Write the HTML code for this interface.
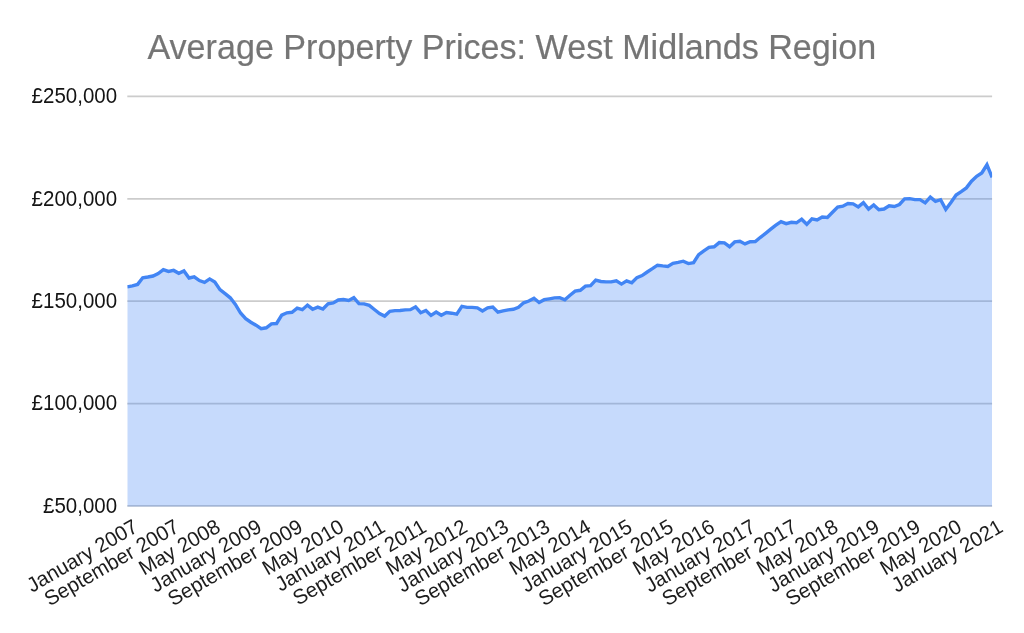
<!DOCTYPE html>
<html lang="en"><head><meta charset="utf-8"><title>Average Property Prices: West Midlands Region</title>
<style>
html,body{margin:0;padding:0;background:#fff;}
body{width:1024px;height:633px;overflow:hidden;font-family:"Liberation Sans",Arial,sans-serif;}
svg{display:block;}
text{font-family:"Liberation Sans",Arial,sans-serif;}
</style></head><body>
<svg width="1024" height="633" viewBox="0 0 1024 633">
<rect x="0" y="0" width="1024" height="633" fill="#ffffff"/>
<text transform="translate(147.4,58.6) scale(1,1.012)" font-size="34.13" fill="#757575" stroke="#757575" stroke-width="0.2">Average Property Prices: West Midlands Region</text>
<g stroke="#cccccc" stroke-width="1.7">
<line x1="127.3" x2="992.1" y1="96.45" y2="96.45"/>
<line x1="127.3" x2="992.1" y1="198.85" y2="198.85"/>
<line x1="127.3" x2="992.1" y1="301.15" y2="301.15"/>
<line x1="127.3" x2="992.1" y1="403.6" y2="403.6"/>
<line x1="127.3" x2="992.1" y1="505.9" y2="505.9"/>
</g>
<clipPath id="c"><rect x="127.3" y="90" width="864.8000000000001" height="416.75"/></clipPath>
<g clip-path="url(#c)"><path d="M127.30,286.80 L132.45,285.90 L137.60,284.40 L142.74,277.80 L147.89,277.00 L153.04,276.00 L158.19,273.60 L163.33,269.70 L168.48,271.40 L173.63,270.40 L178.78,273.30 L183.92,270.90 L189.07,278.00 L194.22,276.80 L199.37,280.60 L204.51,282.40 L209.66,278.90 L214.81,282.00 L219.96,289.70 L225.10,293.70 L230.25,297.80 L235.40,304.40 L240.55,313.00 L245.70,318.60 L250.84,322.20 L255.99,325.20 L261.14,328.60 L266.29,327.80 L271.43,323.90 L276.58,323.50 L281.73,315.10 L286.88,312.80 L292.02,312.30 L297.17,308.20 L302.32,309.70 L307.47,305.10 L312.61,309.20 L317.76,307.10 L322.91,309.00 L328.06,303.90 L333.20,302.90 L338.35,300.00 L343.50,299.50 L348.65,300.40 L353.80,297.70 L358.94,303.70 L364.09,303.90 L369.24,305.40 L374.39,309.50 L379.53,313.50 L384.68,316.10 L389.83,311.30 L394.98,310.65 L400.12,310.45 L405.27,309.85 L410.42,309.65 L415.57,306.80 L420.71,312.70 L425.86,310.50 L431.01,315.40 L436.16,312.00 L441.30,315.30 L446.45,312.50 L451.60,313.20 L456.75,314.20 L461.90,306.40 L467.04,307.40 L472.19,307.40 L477.34,307.90 L482.49,311.00 L487.63,307.90 L492.78,307.10 L497.93,312.20 L503.08,310.90 L508.22,309.90 L513.37,309.30 L518.52,307.30 L523.67,302.80 L528.81,301.00 L533.96,298.30 L539.11,302.50 L544.26,299.70 L549.40,298.80 L554.55,297.90 L559.70,297.70 L564.85,299.80 L570.00,295.20 L575.14,291.10 L580.29,290.30 L585.44,286.10 L590.59,285.70 L595.73,280.10 L600.88,281.50 L606.03,281.90 L611.18,281.90 L616.32,280.80 L621.47,284.10 L626.62,280.80 L631.77,282.80 L636.91,277.60 L642.06,275.60 L647.21,272.00 L652.36,268.70 L657.50,265.20 L662.65,265.90 L667.80,266.40 L672.95,263.40 L678.10,262.40 L683.24,261.20 L688.39,263.60 L693.54,262.70 L698.69,254.60 L703.83,250.80 L708.98,247.30 L714.13,246.80 L719.28,242.60 L724.42,242.90 L729.57,246.70 L734.72,241.90 L739.87,241.20 L745.01,243.90 L750.16,241.70 L755.31,241.60 L760.46,237.30 L765.60,233.30 L770.75,229.20 L775.90,225.20 L781.05,221.60 L786.20,223.60 L791.34,222.30 L796.49,222.80 L801.64,219.20 L806.79,224.30 L811.93,218.80 L817.08,219.90 L822.23,217.00 L827.38,217.50 L832.52,212.20 L837.67,207.10 L842.82,206.20 L847.97,203.50 L853.11,203.80 L858.26,206.90 L863.41,202.70 L868.56,209.10 L873.70,204.90 L878.85,209.80 L884.00,209.00 L889.15,205.80 L894.30,206.50 L899.44,204.50 L904.59,198.90 L909.74,198.70 L914.89,199.60 L920.03,199.60 L925.18,202.90 L930.33,197.10 L935.48,201.40 L940.62,199.70 L945.77,209.40 L950.92,202.40 L956.07,195.00 L961.21,191.60 L966.36,187.90 L971.51,181.20 L976.66,176.30 L981.80,173.00 L986.95,164.80 L992.10,177.40 L992.10,506.75 L127.30,506.75 Z" fill="#4285f4" fill-opacity="0.3" stroke="none"/>
<path d="M127.30,286.80 L132.45,285.90 L137.60,284.40 L142.74,277.80 L147.89,277.00 L153.04,276.00 L158.19,273.60 L163.33,269.70 L168.48,271.40 L173.63,270.40 L178.78,273.30 L183.92,270.90 L189.07,278.00 L194.22,276.80 L199.37,280.60 L204.51,282.40 L209.66,278.90 L214.81,282.00 L219.96,289.70 L225.10,293.70 L230.25,297.80 L235.40,304.40 L240.55,313.00 L245.70,318.60 L250.84,322.20 L255.99,325.20 L261.14,328.60 L266.29,327.80 L271.43,323.90 L276.58,323.50 L281.73,315.10 L286.88,312.80 L292.02,312.30 L297.17,308.20 L302.32,309.70 L307.47,305.10 L312.61,309.20 L317.76,307.10 L322.91,309.00 L328.06,303.90 L333.20,302.90 L338.35,300.00 L343.50,299.50 L348.65,300.40 L353.80,297.70 L358.94,303.70 L364.09,303.90 L369.24,305.40 L374.39,309.50 L379.53,313.50 L384.68,316.10 L389.83,311.30 L394.98,310.65 L400.12,310.45 L405.27,309.85 L410.42,309.65 L415.57,306.80 L420.71,312.70 L425.86,310.50 L431.01,315.40 L436.16,312.00 L441.30,315.30 L446.45,312.50 L451.60,313.20 L456.75,314.20 L461.90,306.40 L467.04,307.40 L472.19,307.40 L477.34,307.90 L482.49,311.00 L487.63,307.90 L492.78,307.10 L497.93,312.20 L503.08,310.90 L508.22,309.90 L513.37,309.30 L518.52,307.30 L523.67,302.80 L528.81,301.00 L533.96,298.30 L539.11,302.50 L544.26,299.70 L549.40,298.80 L554.55,297.90 L559.70,297.70 L564.85,299.80 L570.00,295.20 L575.14,291.10 L580.29,290.30 L585.44,286.10 L590.59,285.70 L595.73,280.10 L600.88,281.50 L606.03,281.90 L611.18,281.90 L616.32,280.80 L621.47,284.10 L626.62,280.80 L631.77,282.80 L636.91,277.60 L642.06,275.60 L647.21,272.00 L652.36,268.70 L657.50,265.20 L662.65,265.90 L667.80,266.40 L672.95,263.40 L678.10,262.40 L683.24,261.20 L688.39,263.60 L693.54,262.70 L698.69,254.60 L703.83,250.80 L708.98,247.30 L714.13,246.80 L719.28,242.60 L724.42,242.90 L729.57,246.70 L734.72,241.90 L739.87,241.20 L745.01,243.90 L750.16,241.70 L755.31,241.60 L760.46,237.30 L765.60,233.30 L770.75,229.20 L775.90,225.20 L781.05,221.60 L786.20,223.60 L791.34,222.30 L796.49,222.80 L801.64,219.20 L806.79,224.30 L811.93,218.80 L817.08,219.90 L822.23,217.00 L827.38,217.50 L832.52,212.20 L837.67,207.10 L842.82,206.20 L847.97,203.50 L853.11,203.80 L858.26,206.90 L863.41,202.70 L868.56,209.10 L873.70,204.90 L878.85,209.80 L884.00,209.00 L889.15,205.80 L894.30,206.50 L899.44,204.50 L904.59,198.90 L909.74,198.70 L914.89,199.60 L920.03,199.60 L925.18,202.90 L930.33,197.10 L935.48,201.40 L940.62,199.70 L945.77,209.40 L950.92,202.40 L956.07,195.00 L961.21,191.60 L966.36,187.90 L971.51,181.20 L976.66,176.30 L981.80,173.00 L986.95,164.80 L992.10,177.40" fill="none" stroke="#4285f4" stroke-width="3.4" stroke-linejoin="miter"/></g>
<g font-size="20.5" fill="#141414" text-anchor="end">
<text transform="translate(117.1,103.20) scale(1,1.04)">£250,000</text>
<text transform="translate(117.1,205.60) scale(1,1.04)">£200,000</text>
<text transform="translate(117.1,307.90) scale(1,1.04)">£150,000</text>
<text transform="translate(117.1,410.35) scale(1,1.04)">£100,000</text>
<text transform="translate(117.1,512.65) scale(1,1.04)">£50,000</text>
</g>
<g font-size="20.5" fill="#1c1c1c" text-anchor="end">
<text transform="translate(139.50,530.8) rotate(-30) scale(1,1.015)">January 2007</text>
<text transform="translate(180.68,530.8) rotate(-30) scale(1,1.015)">September 2007</text>
<text transform="translate(221.86,530.8) rotate(-30) scale(1,1.015)">May 2008</text>
<text transform="translate(263.04,530.8) rotate(-30) scale(1,1.015)">January 2009</text>
<text transform="translate(304.22,530.8) rotate(-30) scale(1,1.015)">September 2009</text>
<text transform="translate(345.40,530.8) rotate(-30) scale(1,1.015)">May 2010</text>
<text transform="translate(386.59,530.8) rotate(-30) scale(1,1.015)">January 2011</text>
<text transform="translate(427.77,530.8) rotate(-30) scale(1,1.015)">September 2011</text>
<text transform="translate(468.95,530.8) rotate(-30) scale(1,1.015)">May 2012</text>
<text transform="translate(510.13,530.8) rotate(-30) scale(1,1.015)">January 2013</text>
<text transform="translate(551.31,530.8) rotate(-30) scale(1,1.015)">September 2013</text>
<text transform="translate(592.49,530.8) rotate(-30) scale(1,1.015)">May 2014</text>
<text transform="translate(633.67,530.8) rotate(-30) scale(1,1.015)">January 2015</text>
<text transform="translate(674.85,530.8) rotate(-30) scale(1,1.015)">September 2015</text>
<text transform="translate(716.03,530.8) rotate(-30) scale(1,1.015)">May 2016</text>
<text transform="translate(757.21,530.8) rotate(-30) scale(1,1.015)">January 2017</text>
<text transform="translate(798.40,530.8) rotate(-30) scale(1,1.015)">September 2017</text>
<text transform="translate(839.58,530.8) rotate(-30) scale(1,1.015)">May 2018</text>
<text transform="translate(880.76,530.8) rotate(-30) scale(1,1.015)">January 2019</text>
<text transform="translate(921.94,530.8) rotate(-30) scale(1,1.015)">September 2019</text>
<text transform="translate(963.12,530.8) rotate(-30) scale(1,1.015)">May 2020</text>
<text transform="translate(1004.30,530.8) rotate(-30) scale(1,1.015)">January 2021</text>
</g>
</svg></body></html>
